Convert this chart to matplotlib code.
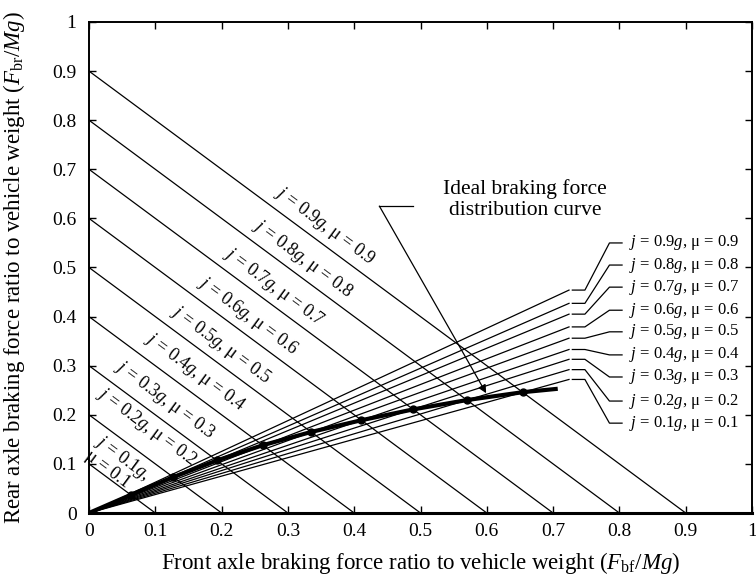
import numpy as np
import matplotlib
matplotlib.use("Agg")
from matplotlib import pyplot as plt
from matplotlib.ticker import FuncFormatter, MultipleLocator

plt.rcParams['font.family'] = ['Liberation Serif', 'DejaVu Serif']
plt.rcParams['mathtext.fontset'] = 'custom'
plt.rcParams['mathtext.rm'] = 'Liberation Serif'
plt.rcParams['mathtext.it'] = 'Liberation Serif:italic'
plt.rcParams['mathtext.bf'] = 'Liberation Serif:bold'

# deceleration lines j (= mu), Fbf + Fbr = j
j_vals = [0.1, 0.2, 0.3, 0.4, 0.5, 0.6, 0.7, 0.8, 0.9]

# ideal braking force distribution curve
ideal_x = [0.0, 0.063, 0.127, 0.193, 0.262, 0.335, 0.411, 0.489, 0.570, 0.654, 0.707]
ideal_y = [0.0, 0.037, 0.073, 0.107, 0.138, 0.165, 0.189, 0.211, 0.230, 0.246, 0.253]

# fan of lines from origin, listed for j = 0.9 ... 0.1 (top to bottom)
fan_end_x = 0.724
fan_end_y = [0.454, 0.427, 0.405, 0.379, 0.356, 0.333, 0.313, 0.292, 0.272]
right_label_y = [0.550, 0.505, 0.460, 0.413, 0.369, 0.322, 0.277, 0.228, 0.183]

# centres of the rotated labels, j = 0.1 ... 0.9
rot_label_x = [0.044, 0.087, 0.1145, 0.160, 0.200, 0.2395, 0.280, 0.3227, 0.3565]
rot_label_y = [0.098, 0.176, 0.230, 0.286, 0.342, 0.401, 0.460, 0.517, 0.585]

fig = plt.figure(figsize=(7.56, 5.78), dpi=100)
ax = fig.add_axes([89/756, 65/578, 663/756, 491/578])

for j in j_vals:
    ax.plot([0, j], [j, 0], color='black', lw=0.9)

for ye in fan_end_y:
    ax.plot([0, fan_end_x], [0, ye], color='black', lw=0.9)

ax.plot(ideal_x, ideal_y, color='black', lw=3.0, solid_capstyle='butt')
ax.plot(ideal_x[1:-1], ideal_y[1:-1], 'o', color='black', ms=5)

# rotated labels along the j lines
for i, j in enumerate(j_vals):
    if j == 0.1:
        s = '$j$ = 0.1$g$,\nμ = 0.1'
    else:
        s = f'$j$ = {j:.1f}$g$, μ = {j:.1f}'
    ax.text(rot_label_x[i], rot_label_y[i], s, rotation=-45, transform_rotates_text=True,
            rotation_mode='anchor', ha='center', va='center', fontsize=13,
            linespacing=0.95, multialignment='left')

# right labels with leaders
for k, j in enumerate(j_vals[::-1]):
    ye = fan_end_y[k]
    yl = right_label_y[k]
    ax.plot([0.729, 0.748, 0.785, 0.804], [ye, ye, yl, yl], color='black', lw=0.9)
    ax.text(0.815, yl, f'$j$ = {j:.1f}$g$, μ = {j:.1f}', ha='left', va='center', fontsize=12)

# ideal curve callout
ax.text(0.658, 0.638, 'Ideal braking force\ndistribution curve', ha='center', va='center',
        fontsize=15.5, linespacing=1.15)
ax.plot([0.488, 0.438], [0.625, 0.625], color='black', lw=0.9)
ax.annotate('', xy=(0.599, 0.244), xytext=(0.438, 0.625),
            arrowprops=dict(arrowstyle='-|>', color='black', lw=0.9,
                            mutation_scale=12, shrinkA=0, shrinkB=0))

ax.set_xlim(0, 1)
ax.set_ylim(0, 1)
ax.xaxis.set_major_locator(MultipleLocator(0.1))
ax.yaxis.set_major_locator(MultipleLocator(0.1))
fmt = FuncFormatter(lambda v, p: f'{v:.1f}'.rstrip('0').rstrip('.') if v > 0 else '0')
ax.xaxis.set_major_formatter(fmt)
ax.yaxis.set_major_formatter(fmt)
ax.tick_params(direction='in', top=True, right=True, length=5, width=1, labelsize=14)
ax.tick_params(axis='x', pad=7)
ax.tick_params(axis='y', pad=9)
for sp in ax.spines.values():
    sp.set_linewidth(1.4)
ax.spines['bottom'].set_linewidth(2.2)

ax.set_xlabel(r'Front axle braking force ratio to vehicle weight ($F_{\mathrm{bf}}/Mg$)',
              fontsize=16.5, va='center')
ax.set_ylabel(r'Rear axle braking force ratio to vehicle weight ($F_{\mathrm{br}}/Mg$)',
              fontsize=16.5, va='center')
ax.xaxis.set_label_coords(0.5, -0.102)
ax.yaxis.set_label_coords(-0.113, 0.5)

fig.savefig('out.png', dpi=100)
